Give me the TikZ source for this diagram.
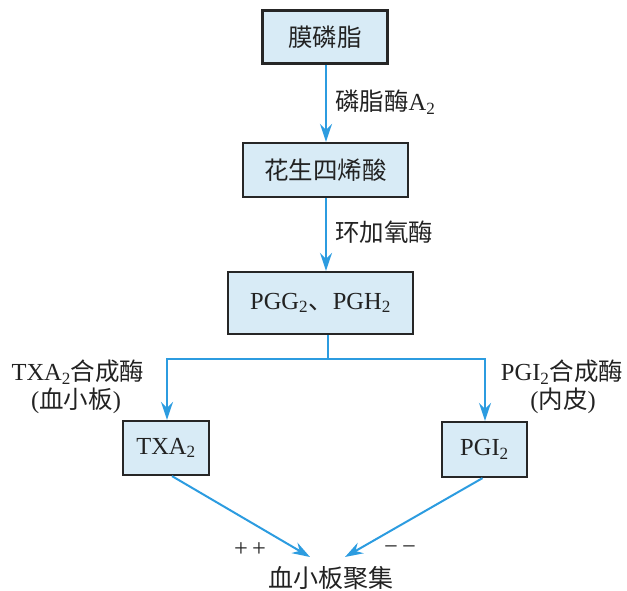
\documentclass[tikz,border=0pt]{standalone}
\usepackage{fontspec}
\setmainfont{Liberation Serif}
\newfontfamily\cjk{Noto Sans CJK SC}
\usetikzlibrary{arrows.meta,calc}
\definecolor{boxfill}{HTML}{D8EBF6}
\definecolor{arrowblue}{HTML}{2C9CE0}
\definecolor{txt}{HTML}{222222}
\tikzset{
  stepbox/.style={draw=black!85,line width=2.2pt,fill=boxfill,inner sep=0pt,text=txt,font=\fontsize{24.5}{26}\selectfont},
  flow/.style={draw=arrowblue,line width=2pt,-{Stealth[length=18pt,width=12pt,inset=6pt]}},
  line/.style={draw=arrowblue,line width=2pt},
  lbl/.style={text=txt,font=\fontsize{24.5}{26}\selectfont,inner sep=0pt,align=center}
}
\begin{document}
\begin{tikzpicture}[x=1pt,y=1pt]
\useasboundingbox (0,0) rectangle (627,-591);
\node[stepbox,minimum width=125pt,minimum height=53pt] (m1) at (325,-37) {\cjk 膜磷脂};
\node[stepbox,minimum width=165pt,minimum height=54pt] (m2) at (325.5,-170) {\cjk 花生四烯酸};
\node[stepbox,minimum width=185pt,minimum height=62pt] (m3) at (320.5,-303) {PGG\textsubscript{2}{\cjk 、}PGH\textsubscript{2}};
\node[stepbox,minimum width=86pt,minimum height=54pt] (txa) at (166,-448) {TXA\textsubscript{2}};
\node[stepbox,minimum width=85pt,minimum height=55pt] (pgi) at (484.5,-449.5) {PGI\textsubscript{2}};
\node[lbl,anchor=west] (l1) at (335,-102) {{\cjk 磷脂酶}A\textsubscript{2}};
\node[lbl,anchor=west] (l2) at (335,-232) {\cjk 环加氧酶};
\node[lbl] (l3) at (78,-372) {TXA\textsubscript{2}{\cjk 合成酶}};
\node[lbl] (l3b) at (76,-401) {({\cjk 血小板})};
\node[lbl] (l4) at (562,-372) {PGI\textsubscript{2}{\cjk 合成酶}};
\node[lbl] (l4b) at (563,-401) {({\cjk 内皮})};
\node[lbl,font=\fontsize{25}{26}\selectfont] (agg) at (331,-578) {\cjk 血小板聚集};
\node[lbl] (pp) at (250,-550) {+\,+};
\node[lbl] (mm) at (400,-550) {\textminus\,\textminus};
\coordinate (tipL) at (310,-557);
\coordinate (tipR) at (345,-557);
\draw[flow] ($(m1.south)+(1,0)$) -- ($(m2.north)+(0.5,0)$);
\draw[flow] ($(m2.south)+(0.5,0)$) -- ($(m3.north)+(5.5,0)$);
\draw[line] ($(m3.south)+(7.5,0)$) -- ++(0,-24) coordinate (br);
\draw[flow] (br) -| ($(txa.north)+(1,0)$);
\draw[flow] (br) -| ($(pgi.north)+(0.5,0)$);
\draw[flow] ($(txa.south)+(6,0)$) -- (tipL);
\draw[flow] ($(pgi.south)+(-2,0)$) -- (tipR);
\end{tikzpicture}
\end{document}
